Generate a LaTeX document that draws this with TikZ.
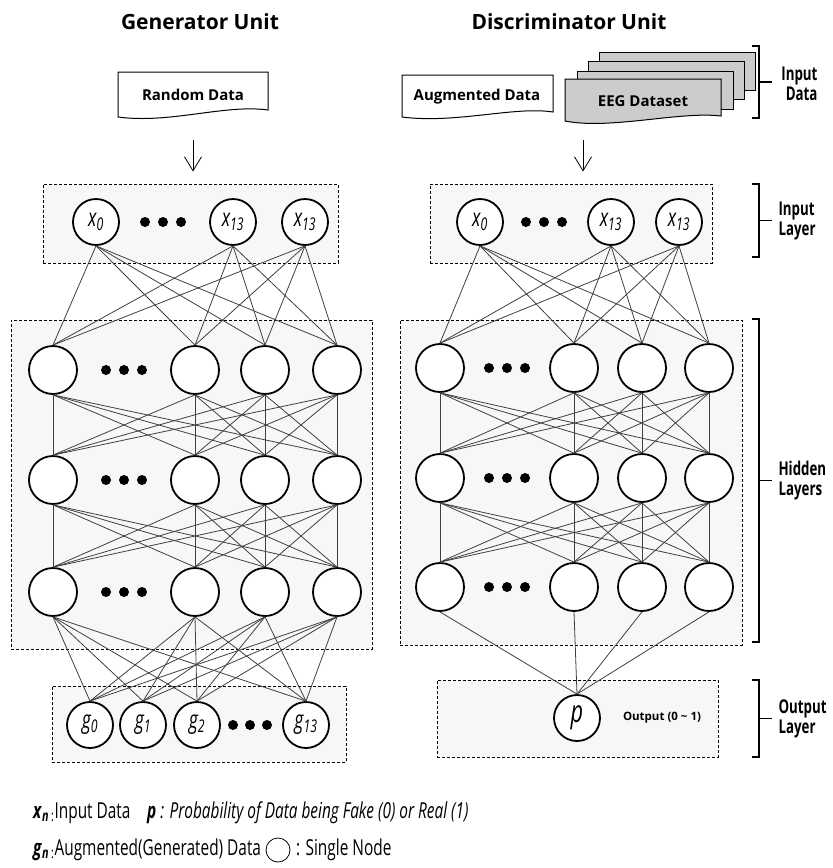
\documentclass[tikz,border=0pt]{standalone}
\usepackage{fontspec}
\setmainfont{Open Sans}
\newfontfamily\narrowfont[FakeStretch=0.7]{Open Sans}
\usetikzlibrary{arrows.meta,calc}

\tikzset{
  unit/.style={circle, draw, line width=1.8pt, fill=white, minimum size=46pt, inner sep=0pt,
    font=\narrowfont\fontsize{25}{25}\selectfont\itshape},
  hidunit/.style={unit, minimum size=48pt},
  layerbox/.style={draw, dash pattern=on 3pt off 2pt, line width=0.9pt, fill=gray!6, inner sep=0pt},
  link/.style={line width=0.8pt, draw=black!75},
  flow/.style={-{Straight Barb[length=14pt, width=17pt]}, line width=0.8pt},
  docbox/.style={draw, line width=1pt, fill=white},
  sheet/.style={draw, line width=1pt, fill=gray!40},
  boxlabel/.style={font=\fontsize{15}{15}\selectfont\bfseries},
  title/.style={font=\fontsize{21}{21}\selectfont\bfseries},
  sidelabel/.style={font=\narrowfont\fontsize{19}{20}\selectfont\bfseries, align=left, anchor=west},
  brace/.style={line width=1.3pt},
  legend/.style={anchor=west, inner sep=0pt, font=\narrowfont\fontsize{22}{22}\selectfont},
}

\newcommand{\unitlabel}[2]{#1\textsubscript{#2}}
\newcommand{\rowdots}[3]{\foreach \dx in {-#3,0,#3} \fill ({#1+\dx},#2) circle (5pt);}
\newcommand{\sidebrace}[2]{%
  \draw[brace] (752,#1) -- (759,#1) -- (759,#2) -- (752,#2);
  \draw[brace] (759,{(#1+#2)/2}) -- (772,{(#1+#2)/2});}

\begin{document}
\begin{tikzpicture}[x=1pt, y=-1pt]
  \useasboundingbox (0,0) rectangle (833,868);

  \node[title] (gtitle) at (200,22) {Generator Unit};
  \node[title] (dtitle) at (569,22) {Discriminator Unit};

  % input data
  \draw[docbox] (118,117) -- (118,72) -- (268,72) -- (268,110) .. controls (225,104) and (170,124) .. cycle;
  \node[boxlabel, minimum width=150pt, minimum height=45pt] (rnd) at (193,95) {Random Data};
  \draw[docbox] (402,117) -- (402,75) -- (553,75) -- (553,112) .. controls (515,106) and (455,124) .. cycle;
  \node[boxlabel] (aug) at (477,97) {Augmented Data};
  \foreach \dx/\dy in {34/-27, 23/-18, 12/-8}
    \draw[sheet] ({565+\dx},{79+\dy}) rectangle ({721+\dx},{117+\dy});
  \draw[sheet] (565,121) -- (565,79) -- (721,79) -- (721,116) .. controls (680,111) and (610,130) .. cycle;
  \node[boxlabel] (eeg) at (643,101) {EEG Dataset};

  % layer boxes
  \node[layerbox, minimum width=295pt, minimum height=79pt] (gin) at (190.5,223.5) {};
  \node[layerbox, minimum width=361pt, minimum height=329pt] (ghid) at (191.5,484.5) {};
  \node[layerbox, minimum width=294pt, minimum height=76pt] (gout) at (199,724) {};
  \node[layerbox, minimum width=282pt, minimum height=79pt] (din) at (571,223.5) {};
  \node[layerbox, minimum width=342pt, minimum height=325pt] (dhid) at (571,482.5) {};
  \node[layerbox, minimum width=281pt, minimum height=77pt] (dout) at (577.5,718.5) {};

  \draw[flow, shorten <=22pt, shorten >=12pt] (rnd.south) -- (rnd.south |- gin.north);
  \coordinate (dsrc) at (583,140);
  \draw[flow, shorten >=12pt] (dsrc) -- (dsrc |- din.north);

  % generator
  \node[unit] (gx0) at (96,222) {\unitlabel{x}{0}};
  \node[unit] (gx1) at (233,222) {\unitlabel{x}{13}};
  \node[unit] (gx2) at (305,222) {\unitlabel{x}{13}};
  \rowdots{163}{222}{18}
  \foreach \r/\y in {1/370, 2/480, 3/592} {
    \foreach \c/\x in {1/53, 2/195, 3/265, 4/337}
      \node[hidunit] (gh\r\c) at (\x,\y) {};
    \rowdots{124}{\y}{18}
  }
  \node[unit] (gg0) at (90,725) {\unitlabel{g}{0}};
  \node[unit] (gg1) at (143,725) {\unitlabel{g}{1}};
  \node[unit] (gg2) at (197,725) {\unitlabel{g}{2}};
  \node[unit] (gg3) at (306,725) {\unitlabel{g}{13}};
  \rowdots{250}{725}{17}

  \foreach \i in {0,1,2}
    \foreach \j in {1,...,4}
      \draw[link] (gx\i.south) -- (gh1\j.north);
  \foreach \r/\s in {1/2, 2/3}
    \foreach \i in {1,...,4}
      \foreach \j in {1,...,4}
        \draw[link] (gh\r\i.south) -- (gh\s\j.north);
  \foreach \i in {1,...,4}
    \foreach \j in {0,...,3}
      \draw[link] (gh3\i.south) -- (gg\j.north);

  % discriminator
  \node[unit] (dx0) at (480,222) {\unitlabel{x}{0}};
  \node[unit] (dx1) at (611,222) {\unitlabel{x}{13}};
  \node[unit] (dx2) at (679,222) {\unitlabel{x}{13}};
  \rowdots{544}{222}{18}
  \foreach \r/\y in {1/368, 2/478, 3/587} {
    \foreach \c/\x in {1/440, 2/574, 3/642, 4/709}
      \node[hidunit] (dh\r\c) at (\x,\y) {};
    \rowdots{507}{\y}{18}
  }
  \node[unit, font=\narrowfont\fontsize{31}{31}\selectfont\itshape] (p) at (577,718) {p};
  \node[font=\fontsize{11.5}{12}\selectfont\bfseries] (outlab) at (662,718) {Output (0 \textasciitilde{} 1)};

  \foreach \i in {0,1,2}
    \foreach \j in {1,...,4}
      \draw[link] (dx\i.south) -- (dh1\j.north);
  \foreach \r/\s in {1/2, 2/3}
    \foreach \i in {1,...,4}
      \foreach \j in {1,...,4}
        \draw[link] (dh\r\i.south) -- (dh\s\j.north);
  \foreach \i in {1,...,4}
    \draw[link] (dh3\i.south) -- (p.north);

  % side braces
  \sidebrace{46}{118}
  \sidebrace{184}{257}
  \sidebrace{319}{642}
  \sidebrace{680}{757}
  \node[sidelabel, anchor=east, align=right] (lindata) at (821,84) {Input\\Data};
  \node[sidelabel] (linlayer) at (775,221) {Input\\Layer};
  \node[sidelabel] (lhidden) at (775,481) {Hidden\\Layers};
  \node[sidelabel] (loutput) at (775,719) {Output\\Layer};

  % legend
  \node[legend] (legx) at (33,813) {\textbf{\textit{x}}\textsubscript{\textbf{\textit{n}}\,:}Input Data};
  \node[legend] (legp) at (147,813) {\textbf{\textit{p}}\textit{ : Probability of Data being Fake (0) or Real (1)}};
  \node[legend] (legg) at (33,850) {\textbf{\textit{g}}\textsubscript{\textbf{\textit{n}}\,:}Augmented(Generated) Data};
  \node[circle, draw, line width=0.8pt, minimum size=24pt, inner sep=0pt] (legunit) at (278,850) {};
  \node[legend] (legnode) at (296,850) {: Single Node};
\end{tikzpicture}
\end{document}
